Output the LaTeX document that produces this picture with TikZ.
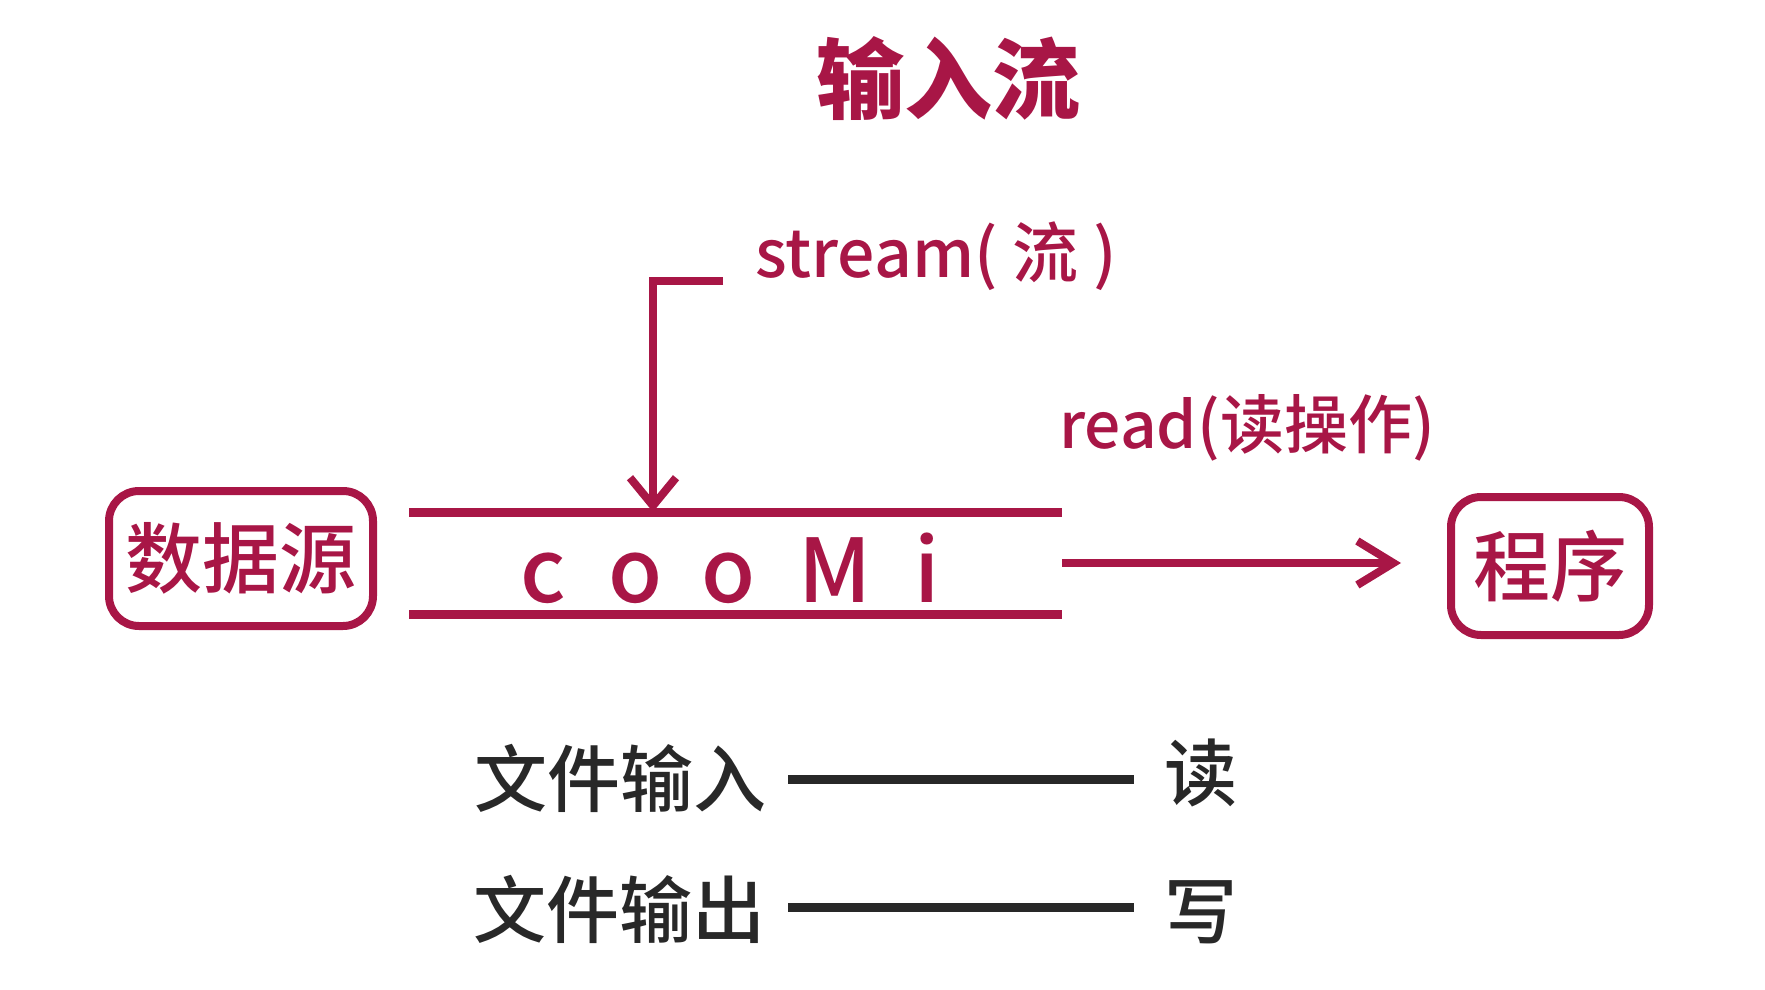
\documentclass[tikz,border=0pt]{standalone}
\usepackage{fontspec}
\newfontfamily\cjk{Noto Sans CJK SC}
\newfontfamily\cjkm{Noto Sans CJK SC}[UprightFont={* Medium}]
\usetikzlibrary{arrows.meta}
\definecolor{crim}{RGB}{168,22,70}
\definecolor{inkc}{RGB}{40,40,40}
\begin{document}
\begin{tikzpicture}[x=1pt,y=-1pt,
  redtxt/.style={inner sep=0pt, text=crim, font=\cjkm},
  boxnode/.style={draw=crim, line width=8pt, rounded corners=30pt, inner sep=0pt, text=crim},
  redline/.style={draw=crim, line width=9pt},
  redarrow/.style={draw=crim, line width=8pt},
  blkline/.style={draw=inkc, line width=9pt},
  blktxt/.style={inner sep=0pt, text=inkc, font=\cjkm\fontsize{73pt}{80pt}\selectfont}]
\useasboundingbox (0,0) rectangle (1765,990);
% title
\node[redtxt, font=\cjk\bfseries\fontsize{88pt}{96pt}\selectfont] (title) at (948,79) {输入流};
% stream label
\node[redtxt, font=\cjkm\fontsize{66pt}{72pt}\selectfont] (stream) at (936,256) {stream( 流 )};
% read label
\node[redtxt, font=\cjkm\fontsize{64pt}{70pt}\selectfont] (read) at (1247,428) {read(读操作)};
% boxes
\node[boxnode, minimum width=264pt, minimum height=135pt, font=\cjkm\fontsize{77pt}{84pt}\selectfont] (src) at (241,558.5) {数据源};
\node[boxnode, minimum width=198pt, minimum height=138pt, font=\cjkm\fontsize{77pt}{84pt}\selectfont] (prog) at (1550,566) {程序};
% channel
\coordinate (chTL) at (409,512);
\coordinate (chTR) at (1062,512);
\coordinate (chBL) at (409,614);
\coordinate (chBR) at (1062,614);
\draw[redline] (chTL) -- (chTR);
\draw[redline] (chBL) -- (chBR);
\node[redtxt, anchor=base, font=\cjkm\fontsize{88pt}{96pt}\selectfont] (l1) at (543,602) {c};
\node[redtxt, anchor=base, font=\cjkm\fontsize{88pt}{96pt}\selectfont] (l2) at (636,602) {o};
\node[redtxt, anchor=base, font=\cjkm\fontsize{88pt}{96pt}\selectfont] (l3) at (729,602) {o};
\node[redtxt, anchor=base, font=\cjkm\fontsize{88pt}{96pt}\selectfont] (l4) at (835,602) {M};
\node[redtxt, anchor=base, font=\cjkm\fontsize{88pt}{96pt}\selectfont] (l5) at (927,602) {i};
% stream bracket arrow
\coordinate (sb) at (723,281);
\coordinate (ct) at (653,512);
\draw[redarrow, -{Straight Barb[length=28pt,width=46pt]}] (sb) -- (ct |- sb) -- (ct);
% read arrow
\coordinate (rm) at (1062,563);
\draw[redarrow, -{Straight Barb[length=36pt,width=44pt]}, shorten >=46pt] (rm) -- (rm -| prog.west);
% bottom
\node[blktxt] (fin) at (620,778) {文件输入};
\node[blktxt] (rd) at (1201,773) {读};
\node[blktxt] (fout) at (619,909) {文件输出};
\node[blktxt] (wr) at (1201,912) {写};
\coordinate (a1) at (788,779);
\coordinate (a2) at (788,907);
\draw[blkline, shorten >=30pt] (a1) -- (a1 -| rd.west);
\draw[blkline, shorten >=30pt] (a2) -- (a2 -| wr.west);
\end{tikzpicture}
\end{document}
